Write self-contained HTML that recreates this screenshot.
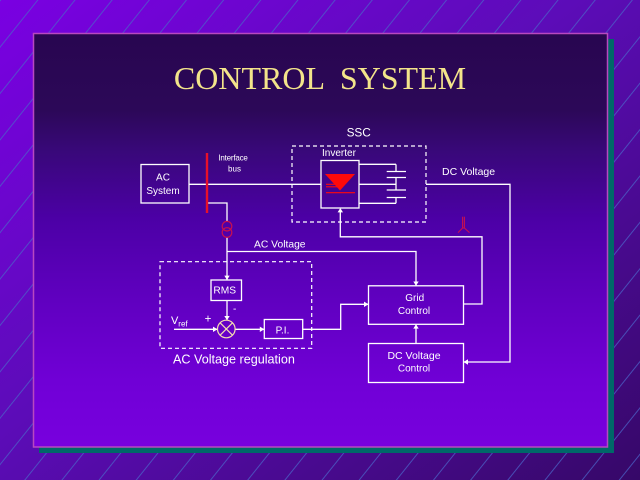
<!DOCTYPE html>
<html>
<head>
<meta charset="utf-8">
<style>
html,body{margin:0;padding:0;width:640px;height:480px;overflow:hidden;background:#5a10b0;}
svg{display:block;}
text{font-family:"Liberation Sans",Arial,sans-serif;fill:#ffffff;}
</style>
</head>
<body>
<svg width="640" height="480" viewBox="0 0 640 480" xmlns="http://www.w3.org/2000/svg">
<defs>
<linearGradient id="bg" x1="0" y1="0" x2="1" y2="1">
<stop offset="0" stop-color="#7a00e2"/>
<stop offset="0.45" stop-color="#5c0cb8"/>
<stop offset="1" stop-color="#360868"/>
</linearGradient>
<linearGradient id="panel" x1="0" y1="0" x2="0" y2="1">
<stop offset="0" stop-color="#280650"/>
<stop offset="0.186" stop-color="#2c0858"/>
<stop offset="0.28" stop-color="#380878"/>
<stop offset="0.45" stop-color="#4c00a6"/>
<stop offset="0.645" stop-color="#6000c0"/>
<stop offset="0.84" stop-color="#7000d6"/>
<stop offset="1" stop-color="#7800de"/>
</linearGradient>
<pattern id="stripes" patternUnits="userSpaceOnUse" width="29" height="29" patternTransform="rotate(38.7)">
<line x1="0.5" y1="0" x2="0.5" y2="29" stroke="#4a64c8" stroke-width="1" stroke-opacity="0.75"/>
</pattern>
</defs>

<!-- outer background -->
<rect x="0" y="0" width="640" height="480" fill="url(#bg)"/>
<rect x="0" y="0" width="640" height="480" fill="url(#stripes)"/>

<!-- shadow -->
<rect x="39" y="39" width="575" height="414" fill="#006868"/>
<!-- panel -->
<rect x="33.5" y="33.5" width="574" height="413.5" fill="url(#panel)" stroke="#b848c0" stroke-width="1.5"/>

<!-- title -->
<text x="320" y="89" text-anchor="middle" style="font-family:'Liberation Serif','Times New Roman',serif;font-size:32px;fill:#f3e48a;" xml:space="preserve">CONTROL  SYSTEM</text>

<g stroke="#ffffff" stroke-width="1.3" fill="none">
<!-- AC system box -->
<rect x="141" y="164.5" width="48" height="38.5"/>
<!-- main horizontal line -->
<line x1="189" y1="184.3" x2="321" y2="184.3"/>
<!-- bus tap to transformer -->
<polyline points="207,203 227,203 227,221"/>
<line x1="227" y1="237.5" x2="227" y2="280"/>
<polyline points="227,251.5 416,251.5 416,285.5"/>

<!-- inverter box -->
<rect x="321" y="160.5" width="38" height="47.5"/>
<!-- inverter to caps -->
<line x1="359" y1="164.3" x2="396" y2="164.3"/>
<line x1="359" y1="184.3" x2="396" y2="184.3"/>
<line x1="359" y1="203.3" x2="396" y2="203.3"/>
<line x1="396" y1="164.3" x2="396" y2="171.5"/>
<line x1="396" y1="177.5" x2="396" y2="190"/>
<line x1="396" y1="197.5" x2="396" y2="203.3"/>
<line x1="386.7" y1="171.5" x2="406" y2="171.5"/>
<line x1="386.7" y1="177.5" x2="406" y2="177.5"/>
<line x1="386.7" y1="190" x2="406" y2="190"/>
<line x1="386.7" y1="197.5" x2="406" y2="197.5"/>

<!-- DC voltage feedback -->
<polyline points="426,184.3 510,184.3 510,362 464,362"/>
<!-- grid control to inverter -->
<polyline points="463,304 482,304 482,236.8 340.3,236.8 340.3,209"/>

<!-- Grid control box -->
<rect x="368.5" y="285.8" width="95" height="38.5"/>
<!-- DC voltage control box -->
<rect x="368.5" y="343.5" width="95" height="39"/>
<line x1="416" y1="343.5" x2="416" y2="325"/>

<!-- RMS -->
<rect x="211" y="280" width="30.5" height="20.5"/>
<line x1="227" y1="300.5" x2="227" y2="320"/>
<!-- P.I. -->
<rect x="264.3" y="319.5" width="38.4" height="19"/>
<line x1="174" y1="329.3" x2="217" y2="329.3"/>
<line x1="235.5" y1="329.3" x2="264" y2="329.3"/>
<polyline points="302.7,329.3 340.7,329.3 340.7,304.3 368,304.3"/>
</g>

<!-- dashed boxes -->
<g stroke="#ffffff" stroke-width="1.2" fill="none" stroke-dasharray="4,3">
<rect x="292" y="146" width="134" height="76"/>
<rect x="160" y="261.7" width="151.7" height="86.6"/>
</g>

<!-- arrowheads -->
<g fill="#ffffff">
<polygon points="416,285.8 413.3,281.5 418.7,281.5"/>
<polygon points="368.5,304.3 364,301.6 364,307"/>
<polygon points="416,324.3 413.3,328.6 418.7,328.6"/>
<polygon points="463.5,362 468,359.3 468,364.7"/>
<polygon points="340.3,208 337.6,212.4 343,212.4"/>
<polygon points="227,280 224.3,275.6 229.7,275.6"/>
<polygon points="227,320.3 224.3,316 229.7,316"/>
<polygon points="217.5,329.3 213,326.6 213,332"/>
<polygon points="264.3,329.3 259.8,326.6 259.8,332"/>
</g>

<!-- red bus -->
<line x1="207" y1="153" x2="207" y2="213" stroke="#e8102a" stroke-width="2.4"/>
<!-- transformer symbol -->
<g stroke="#c81050" stroke-width="1.2" fill="none">
<circle cx="227" cy="226.2" r="4.8"/>
<circle cx="227" cy="232.5" r="4.8"/>
</g>
<!-- thyristor-like symbol -->
<g stroke="#c81050" stroke-width="1.1" fill="none">
<line x1="462.6" y1="216.7" x2="462.6" y2="228"/>
<line x1="464.4" y1="216.7" x2="464.4" y2="228"/>
<polyline points="458,232.6 462.6,228 464.4,228 469.5,232.6"/>
</g>

<!-- inverter symbol -->
<polygon points="325,174 355,174 340,190.5" fill="#ff0a0a"/>
<g stroke="#ff0a0a" stroke-width="1.1">
<line x1="326" y1="184.3" x2="337" y2="184.3"/>
<line x1="326" y1="186.8" x2="337" y2="186.8"/>
<line x1="326" y1="192.7" x2="355" y2="192.7"/>
</g>

<!-- summing junction -->
<g stroke="#f4dcb0" stroke-width="1.2" fill="none">
<circle cx="226.3" cy="329" r="8.8"/>
<line x1="220.1" y1="322.8" x2="232.5" y2="335.2"/>
<line x1="232.5" y1="322.8" x2="220.1" y2="335.2"/>
</g>

<!-- labels -->
<text x="163" y="180.7" text-anchor="middle" style="font-size:10px;">AC</text>
<text x="163" y="194" text-anchor="middle" style="font-size:10px;">System</text>
<text x="233" y="160.7" text-anchor="middle" style="font-size:8px;letter-spacing:-0.2px;">Interface</text>
<text x="234.5" y="171.7" text-anchor="middle" style="font-size:8px;">bus</text>
<text x="254" y="247.3" style="font-size:10.3px;">AC Voltage</text>
<text x="358.7" y="136.5" text-anchor="middle" style="font-size:11.8px;">SSC</text>
<text x="322" y="156" style="font-size:10px;">Inverter</text>
<text x="442" y="175" style="font-size:10.5px;">DC Voltage</text>
<text x="414.7" y="301" text-anchor="middle" style="font-size:10px;">Grid</text>
<text x="414" y="314" text-anchor="middle" style="font-size:10px;">Control</text>
<text x="414" y="359" text-anchor="middle" style="font-size:10.5px;">DC Voltage</text>
<text x="414" y="371.7" text-anchor="middle" style="font-size:10px;">Control</text>
<text x="224.7" y="293.3" text-anchor="middle" style="font-size:10.2px;">RMS</text>
<text x="282.5" y="333.3" text-anchor="middle" style="font-size:10px;">P.I.</text>
<text x="171" y="324" style="font-size:11px;">V</text>
<text x="178.3" y="326.7" style="font-size:8px;">ref</text>
<text x="208" y="322.5" text-anchor="middle" style="font-size:11.5px;">+</text>
<text x="234.7" y="312" text-anchor="middle" style="font-size:10px;">-</text>
<text x="173" y="363.3" style="font-size:12.6px;">AC Voltage regulation</text>
</svg>
</body>
</html>
